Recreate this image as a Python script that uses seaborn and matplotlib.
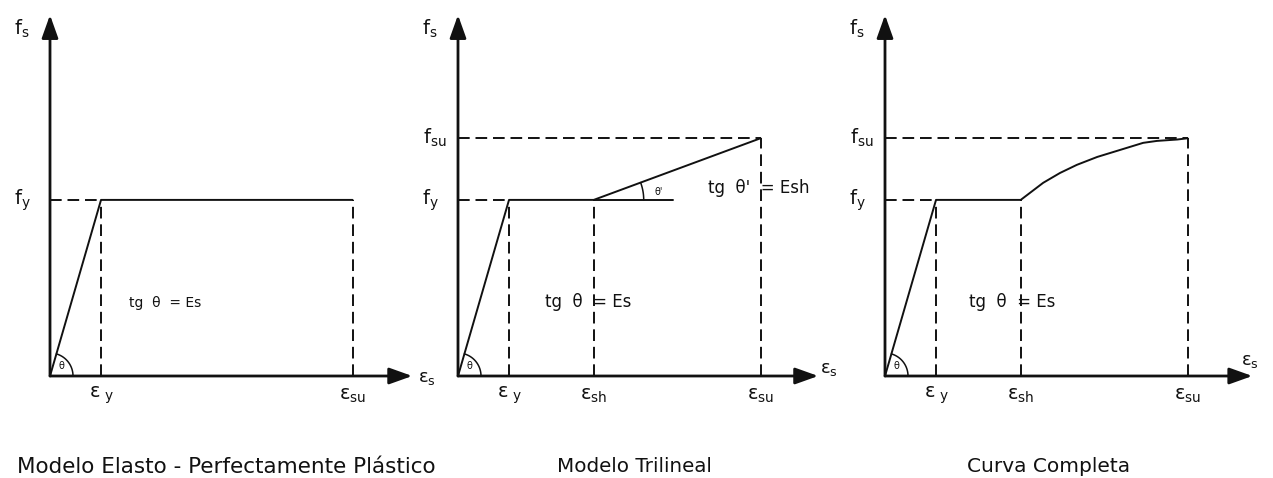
import numpy as np
import matplotlib
matplotlib.use('Agg')
import matplotlib.pyplot as plt
import seaborn as sns

# schematic stress-strain values (normalised: eps_y = 1, f_y = 1)
titles = ['Modelo Elasto - Perfectamente Plástico', 'Modelo Trilineal', 'Curva Completa']
eps_y, eps_sh, eps_su = 1.0, 2.66, 5.93
f_y, f_su = 1.0, 1.35
hard_ref_end = 4.22          # solid reference line beyond eps_sh (trilineal)
curve_eps = [2.66, 3.10, 3.43, 3.76, 4.16, 4.61, 5.06, 5.33, 5.73, 5.93]
curve_f = [1.00, 1.097, 1.153, 1.199, 1.244, 1.284, 1.324, 1.335, 1.343, 1.35]

sns.set_theme(style='white')
plt.rcParams['font.family'] = ['DejaVu Sans']
plt.rcParams['mathtext.fontset'] = 'dejavusans'
plt.rcParams['mathtext.default'] = 'regular'

fig = plt.figure(figsize=(12.73, 4.78), dpi=100)
lefts = [50, 458, 885]
ax_w, ax_h, bottom = 375, 361, 102
xmax, ymax = 7.35, 2.05
sx, sy = ax_w / xmax, ax_h / ymax
x_arrow = [7.1, 7.06, 7.2]
ink = '#111111'
dash = dict(color=ink, lw=1.4, ls=(0, (6, 3)), clip_on=False)


def arc(ax, x0, y0, r, a1, a2):
    t = np.linspace(a1, a2, 40)
    ax.plot(x0 + r * np.cos(t) / sx, y0 + r * np.sin(t) / sy, color=ink, lw=1.1, clip_on=False)


for i, left in enumerate(lefts):
    ax = fig.add_axes([left / 1273, bottom / 478, ax_w / 1273, ax_h / 478])
    ax.set_xlim(0, xmax)
    ax.set_ylim(0, ymax)

    if i == 0:
        xs, ys = [0, eps_y, eps_su], [0, f_y, f_y]
    elif i == 1:
        xs, ys = [0, eps_y, eps_sh, eps_su], [0, f_y, f_y, f_su]
    else:
        xs = [0, eps_y] + curve_eps
        ys = [0, f_y] + curve_f
    sns.lineplot(x=xs, y=ys, ax=ax, color=ink, lw=1.4, sort=False, estimator=None)

    # guides
    ax.plot([0, eps_y], [f_y, f_y], **dash)
    ax.plot([eps_y, eps_y], [0, f_y], **dash)
    if i == 0:
        ax.plot([eps_su, eps_su], [0, f_y], **dash)
    else:
        ax.plot([0, eps_su], [f_su, f_su], **dash)
        ax.plot([eps_sh, eps_sh], [0, f_y], **dash)
        ax.plot([eps_su, eps_su], [0, f_su], **dash)

    # axes with arrows
    for tip in [(x_arrow[i], 0), (0, ymax)]:
        ax.annotate('', xy=tip, xytext=(0, 0),
                    arrowprops=dict(arrowstyle='-|>,head_length=0.7,head_width=0.25',
                                    mutation_scale=20, lw=2, color=ink, shrinkA=0, shrinkB=0))

    # theta angle at origin
    a = np.arctan2(f_y * sy, eps_y * sx)
    arc(ax, 0, 0, 23, 0, a)
    ax.text(0.22, 0.055, 'θ', fontsize=7, ha='center', va='center', color=ink)

    # labels
    ax.text(-0.55, 1.97, r'$f_s$', fontsize=14, ha='center', va='center', color=ink)
    ax.text(-0.55, 1.0, r'$f_y$', fontsize=14, ha='center', va='center', color=ink)
    ax.text(eps_y, -0.11, r'$ε_{\ y}$', fontsize=14, ha='center', va='center', color=ink)
    ax.text(eps_su, -0.11, r'$ε_{su}$', fontsize=14, ha='center', va='center', color=ink)
    if i > 0:
        ax.text(-0.45, f_su, r'$f_{su}$', fontsize=14, ha='center', va='center', color=ink)
        ax.text(eps_sh, -0.11, r'$ε_{sh}$', fontsize=14, ha='center', va='center', color=ink)
    es_pos = [(7.39, -0.01), (7.27, 0.04), (7.16, 0.085)][i]
    ax.text(*es_pos, r'$ε_s$', fontsize=13, ha='center', va='center', color=ink)

    tg_pos = [(2.25, 0.415), (2.55, 0.42), (2.49, 0.42)][i]
    ax.text(*tg_pos, 'tg  θ  = Es', fontsize=[10, 12, 12][i], ha='center', va='center', color=ink)

    if i == 1:
        ax.plot([eps_sh, hard_ref_end], [f_y, f_y], color=ink, lw=1.4)
        b = np.arctan2((f_su - f_y) * sy, (eps_su - eps_sh) * sx)
        arc(ax, eps_sh, f_y, 50, 0, b)
        ax.text(3.93, 1.045, "θ'", fontsize=7, ha='center', va='center', color=ink)
        ax.text(5.9, 1.07, "tg  θ'  = Esh", fontsize=12, ha='center', va='center', color=ink)

    ax.axis('off')

title_x = [226, 634, 1049]
title_fs = [15.5, 14.3, 14.5]
for t, x, fs in zip(titles, title_x, title_fs):
    fig.text(x / 1273, 11 / 478, t, fontsize=fs, ha='center', va='center', color=ink)

fig.savefig('out.png', dpi=100, facecolor='white')
